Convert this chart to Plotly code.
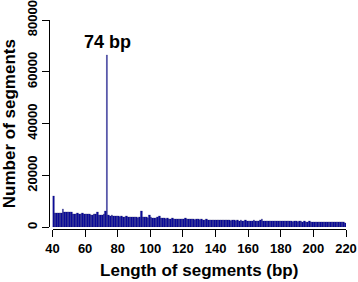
import plotly.graph_objects as go

# segment lengths (bp); each bar covers (L-1, L]
lengths = list(range(41, 221))
counts = [
    11900,
    5600, 5500, 5600, 5400, 5500,
    6900,
    6000, 5900, 6000, 5800, 5900,
    5300, 5100, 5200, 5400, 5100, 5300,
    5700,
    5100, 5000, 5200, 5300, 4900, 4800, 5000, 5100,
    5900,
    4900, 4700, 4800, 5100,
    6400,
    66600,
    4600, 4500, 4900, 4400, 4300, 4500,
    4200, 4100, 4300, 4000, 4100, 4200, 3900, 4000, 4100, 3800, 3900, 4000, 3700, 3800,
    6400,
    4100, 3900, 3800, 3700,
    4900,
    3800, 3700, 3600, 3700, 3800,
    4500,
    3600, 3500, 3600, 3400, 3500, 3300, 3400, 3500, 3300, 3400, 3200, 3300, 3400, 3200,
    3300, 3600, 3200, 3100, 3300, 3200, 3100, 3000, 3200, 3100, 3000, 3100, 2900, 3000, 3100, 2900, 3000, 2900, 2800, 3000,
    2900, 2800, 2900, 2800, 2700, 2900, 2800, 2700, 2800, 2600, 2700, 2800, 2600, 2700, 2600, 2700, 2500, 2600, 2700, 2500,
    2600, 2500, 2600, 2700, 2500, 2600, 2500, 2800, 3200, 2600, 2500, 2400, 2500, 2600, 2400, 2500, 2400, 2300, 2500, 2400,
    2400, 2300, 2400, 2500, 2300, 2400, 2300, 2200, 2400, 2300, 2200, 2300, 2400, 2200, 2300, 2200, 2100, 2300, 2200, 2100,
    2200, 2100, 2200, 2100, 2000, 2200, 2100, 2000, 2100, 2000, 1900, 2100, 2000, 1900, 2000, 2100, 1900, 2000, 1900, 1800,
]
x_ticks = [40, 60, 80, 100, 120, 140, 160, 180, 200, 220]
y_ticks = [0, 20000, 40000, 60000, 80000]
y_tick_labels = ["0", "20000", "40000", "60000", "80000"]
peak_label = "74 bp"
peak_length = 74

FONT = "Liberation Sans, Arial, sans-serif"

fig = go.Figure(go.Bar(
    x=lengths, y=counts, offset=-1, width=1,
    marker=dict(color="#0c0c9c", line=dict(color="#000048", width=0.2)),
    hoverinfo="skip",
))

peak_val = counts[lengths.index(peak_length)]
fig.add_annotation(x=peak_length - 0.5, y=peak_val, text=peak_label, showarrow=False,
                   yanchor="bottom", yshift=1,
                   font=dict(family=FONT, size=18, color="black", weight="bold"))

fig.update_layout(
    width=358, height=282,
    margin=dict(l=49, r=12, t=20, b=53),
    paper_bgcolor="white", plot_bgcolor="white",
    showlegend=False, bargap=0,
    font=dict(family=FONT, color="black"),
    xaxis=dict(
        domain=[0.0118, 1.0], range=[40, 220],
        anchor="free", position=0, automargin=False, ticklabeloverflow="allow",
        tickvals=x_ticks, ticks="outside", ticklen=7, tickwidth=1, tickcolor="black",
        showline=True, linecolor="black", linewidth=1, showgrid=False, zeroline=False,
        tickfont=dict(family=FONT, size=13, color="black", weight="bold"),
        title=dict(text="Length of segments (bp)", standoff=9,
                   font=dict(family=FONT, size=17, color="black", weight="bold")),
    ),
    yaxis=dict(
        domain=[0.008, 1.0], range=[0, 80000],
        anchor="free", position=0, automargin=False, ticklabeloverflow="allow",
        tickvals=y_ticks, ticktext=y_tick_labels, tickangle=-90,
        ticks="outside", ticklen=7, tickwidth=1, tickcolor="black",
        showline=True, linecolor="black", linewidth=1, showgrid=False, zeroline=False,
        tickfont=dict(family=FONT, size=13, color="black", weight="bold"),
        title=dict(text="Number of segments", standoff=3,
                   font=dict(family=FONT, size=17, color="black", weight="bold")),
    ),
)

fig.write_html("out.html", config={"displayModeBar": False},
               post_script="document.body.style.margin='0px';")
